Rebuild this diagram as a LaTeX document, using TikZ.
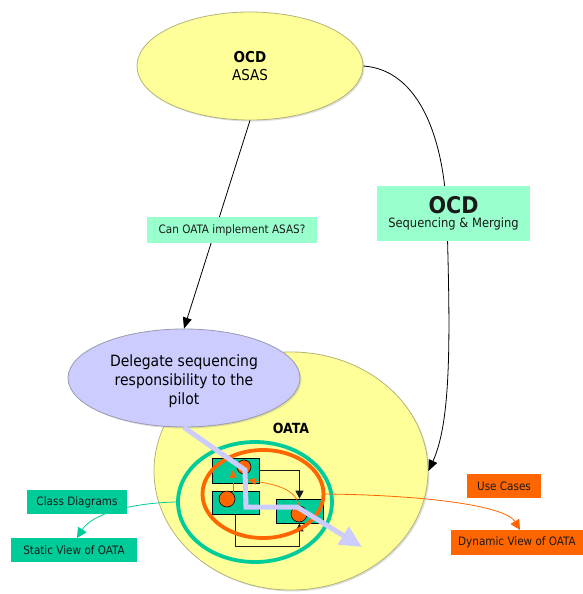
\documentclass[tikz,border=0pt]{standalone}
\usepackage{fontspec}
\setmainfont{DejaVu Sans Condensed}
\usetikzlibrary{arrows.meta,shapes.geometric,shadows}
\definecolor{paleyellow}{HTML}{FFFF99}
\definecolor{yellowedge}{HTML}{B4B478}
\definecolor{lavender}{HTML}{CCCCFF}
\definecolor{lavedge}{HTML}{9A9AB0}
\definecolor{mint}{HTML}{99FFCC}
\definecolor{teal}{HTML}{00CC99}
\definecolor{orng}{HTML}{FF6600}
\definecolor{ink}{HTML}{1A1A1A}
\tikzset{
  bubble/.style={ellipse, draw=yellowedge, line width=0.8pt, fill=paleyellow,
    drop shadow={opacity=0.25, shadow xshift=1.5pt, shadow yshift=-1.5pt}},
  thought/.style={ellipse, draw=lavedge, line width=0.8pt, fill=lavender,
    drop shadow={opacity=0.25, shadow xshift=1.5pt, shadow yshift=-1.5pt}},
  ring/.style={ellipse, draw=#1, line width=3.8pt, fill=none, inner sep=0pt},
  tag/.style={rectangle, fill=#1, inner sep=0pt, text=ink, font=\fontsize{11.6}{13}\selectfont},
  classbox/.style={rectangle, draw=black, line width=0.7pt, fill=teal, inner sep=0pt},
  instance/.style={circle, draw=black, line width=0.6pt, fill=orng, inner sep=0pt},
  conn/.style={line width=0.8pt, draw=black, -{Triangle[length=11pt, width=9pt]}},
  flow/.style={line width=0.8pt, draw=ink, -{Triangle[length=8pt, width=8pt]}},
  msg/.style={line width=0.7pt, draw=orng, -{Triangle[length=8pt, width=7pt]}},
  trace/.style={line width=5pt, draw=lavender, -{Triangle[length=22pt, width=20pt]}},
}
\begin{document}
\begin{tikzpicture}[x=1pt, y=-1pt]
\useasboundingbox (0,0) rectangle (583,594);

% top-level concept
\node[bubble, minimum width=226pt, minimum height=108pt, align=center,
      font=\fontsize{15}{18}\selectfont] (asas) at (250,66)
  {\textbf{OCD}\\ASAS};

% OATA system
\node[bubble, minimum width=274pt, minimum height=238pt] (oata) at (291,471) {};
\node[font=\bfseries\fontsize{14}{16}\selectfont] (oatalbl) at (291,428) {OATA};

% delegation idea
\node[thought, minimum width=232pt, minimum height=98pt] (delegate) at (184,378) {};
\node[align=center, font=\fontsize{15.5}{19}\selectfont] (delegatetxt) at (184,381)
  {Delegate sequencing\\responsibility to the\\pilot};

% question link
\draw[conn] (asas.south) -- (delegate.north);
\node[tag=mint, minimum width=170pt, minimum height=26pt] (question) at (232,230)
  {Can OATA implement ASAS?};

% sequencing & merging link
\draw[conn] (asas.east) .. controls (420,70) and (445,140) .. (447,220)
  .. controls (450,330) and (452,420) .. (oata.east);
\node[tag=mint, minimum width=153pt, minimum height=55pt, align=center] (seqmerge) at (453.5,213.5)
  {{\bfseries\fontsize{23}{26}\selectfont OCD}\\[1pt]{\fontsize{12.8}{14}\selectfont Sequencing \& Merging}};

% class structure inside OATA
\node[classbox, minimum width=47pt, minimum height=25pt] (r1) at (235.5,470.5) {};
\node[classbox, minimum width=47pt, minimum height=23pt] (r2) at (235.5,502.5) {};
\node[classbox, minimum width=47pt, minimum height=24pt] (r3) at (299.5,511) {};
\draw[flow] (r1.east) -| (r3.north);
\draw[flow] (r2.south) -- ++(0,32) -| (r3.south);

\node[instance, minimum size=14pt] (c1) at (244,467) {};
\node[instance, minimum size=16pt] (c2) at (227,499) {};
\node[instance, minimum size=16pt] (c3) at (299,514) {};
\draw[msg] (233,492) -- (233,470);
\draw[msg] (c3.north) .. controls (296,488) and (272,484) .. (248,480);

% static and dynamic views
\node[ring=teal, minimum width=154pt, minimum height=120pt] (staticring) at (255,502) {};
\node[ring=orng, minimum width=121pt, minimum height=88pt] (dynring) at (263,494) {};

% delegation trace
\draw[trace] (delegate.south) -- (245,470) -- (246,507) -- (297,507) -- (362,547);

% view labels
\draw[line width=0.8pt, draw=teal, -{Triangle[length=10pt, width=10pt]}]
  (staticring.west) .. controls (130,503) and (92,514) .. (77,538);
\node[tag=teal, minimum width=100pt, minimum height=24pt] (classdiag) at (77,502) {Class Diagrams};
\node[tag=teal, minimum width=126pt, minimum height=24pt] (staticview) at (74,550) {Static View of OATA};

\draw[line width=0.8pt, draw=orng, -{Triangle[length=10pt, width=10pt]}]
  (dynring.east) .. controls (420,495) and (505,505) .. (520,530);
\node[tag=orng, minimum width=74pt, minimum height=24pt] (usecases) at (504,486) {Use Cases};
\node[tag=orng, minimum width=132pt, minimum height=25pt] (dynview) at (517,542.5) {Dynamic View of OATA};
\end{tikzpicture}
\end{document}
